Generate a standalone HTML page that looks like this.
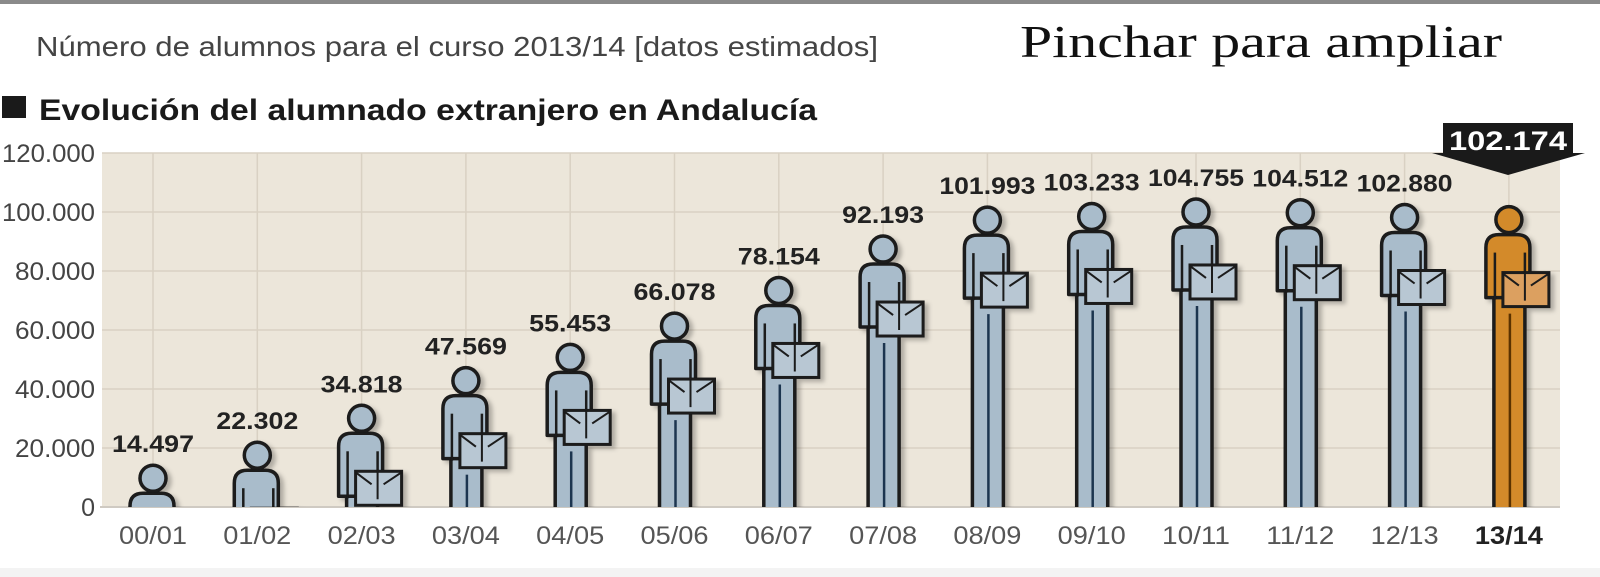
<!DOCTYPE html>
<html><head><meta charset="utf-8"><style>
html,body{margin:0;padding:0;background:#fff;}
svg{display:block;}
</style></head><body>
<svg width="1600" height="577" viewBox="0 0 1600 577" xmlns="http://www.w3.org/2000/svg">
<defs>
<clipPath id="pc"><rect x="100" y="0" width="1462" height="507"/></clipPath>
<filter id="sh" x="-30%" y="-10%" width="160%" height="130%"><feDropShadow dx="4" dy="3" stdDeviation="2" flood-color="#000" flood-opacity="0.25"/></filter>
</defs>
<rect x="0" y="0" width="1600" height="4" fill="#8a8a8a"/>
<rect x="0" y="568" width="1600" height="9" fill="#f3f3f3"/>
<text x="36" y="56" font-family="Liberation Sans, sans-serif" font-size="28" fill="#444" textLength="842" lengthAdjust="spacingAndGlyphs">Número de alumnos para el curso 2013/14 [datos estimados]</text>
<text x="1020" y="57" font-family="Liberation Serif, serif" font-size="46" fill="#111" textLength="482" lengthAdjust="spacingAndGlyphs">Pinchar para ampliar</text>
<rect x="2" y="96" width="24" height="22" fill="#1a1a1a"/>
<text x="39" y="120" font-family="Liberation Sans, sans-serif" font-size="30" font-weight="bold" fill="#1a1a1a" textLength="778" lengthAdjust="spacingAndGlyphs">Evolución del alumnado extranjero en Andalucía</text>
<rect x="102" y="153" width="1458" height="354" fill="#ece6da"/>
<g stroke="#d9d1c3" stroke-width="1.5">
<line x1="102" x2="1560" y1="153" y2="153"/><line x1="102" x2="1560" y1="212" y2="212"/><line x1="102" x2="1560" y1="271" y2="271"/><line x1="102" x2="1560" y1="330" y2="330"/><line x1="102" x2="1560" y1="389" y2="389"/><line x1="102" x2="1560" y1="448" y2="448"/>
</g>
<g id="vg" stroke="#d9d1c3" stroke-width="1.5"></g>
<line x1="100" x2="1560" y1="507" y2="507" stroke="#cfcac2" stroke-width="2"/>
<g font-family="Liberation Sans, sans-serif" font-size="25" fill="#444" text-anchor="end">
<text x="95" y="162" textLength="93" lengthAdjust="spacingAndGlyphs">120.000</text><text x="95" y="221" textLength="93" lengthAdjust="spacingAndGlyphs">100.000</text><text x="95" y="280" textLength="80" lengthAdjust="spacingAndGlyphs">80.000</text><text x="95" y="339" textLength="80" lengthAdjust="spacingAndGlyphs">60.000</text><text x="95" y="398" textLength="80" lengthAdjust="spacingAndGlyphs">40.000</text><text x="95" y="457" textLength="80" lengthAdjust="spacingAndGlyphs">20.000</text><text x="95" y="516">0</text>
</g>
<g id="figs" clip-path="url(#pc)"></g>
<g id="labs"></g>
<polygon points="1443,123 1573,123 1573,153 1585,153 1508,175 1432,153 1443,153" fill="#1a1a1a"/>
<text x="1508" y="150" text-anchor="middle" font-family="Liberation Sans, sans-serif" font-size="27" font-weight="bold" fill="#fff" textLength="118" lengthAdjust="spacingAndGlyphs">102.174</text>
</svg>
<script>
(function(){
var vals=[14497,22302,34818,47569,55453,66078,78154,92193,101993,103233,104755,104512,102880,102174];
var labs=["00/01","01/02","02/03","03/04","04/05","05/06","06/07","07/08","08/09","09/10","10/11","11/12","12/13","13/14"];
var ns="http://www.w3.org/2000/svg";
var figs=document.getElementById('figs'),L=document.getElementById('labs'),vg=document.getElementById('vg');
function el(t,a,p){var e=document.createElementNS(ns,t);for(var k in a)e.setAttribute(k,a[k]);p.appendChild(e);return e;}
for(var i=0;i<14;i++){
 var cx=153+104.3*i, top=507-vals[i]/120000*354, last=i==13;
 el('line',{x1:cx,x2:cx,y1:153,y2:507,stroke:'#d9d1c3','stroke-width':1.5},vg);
 var f=last?'#d38a2a':'#a9bccb', fb=last?'#dca060':'#b8c7d3', s='#1a1a1a';
 var g=el('g',{filter:'url(#sh)'},figs);
 el('rect',{x:cx-15,y:top+85,width:31,height:507-top-80,fill:f,stroke:s,'stroke-width':3.5},g);
 el('line',{x1:cx+1,x2:cx+1,y1:top+108,y2:510,stroke:last?'#5a3000':'#1d3550','stroke-width':2.5},g);
 el('path',{d:'M'+(cx-23)+','+(top+92)+' V'+(top+42)+' Q'+(cx-23)+','+(top+29)+' '+(cx-10)+','+(top+29)+' H'+(cx+8)+' Q'+(cx+21)+','+(top+29)+' '+(cx+21)+','+(top+42)+' V'+(top+92)+' Z',fill:f,stroke:s,'stroke-width':3.5,'stroke-linejoin':'round'},g);
 el('line',{x1:cx-14,x2:cx-14,y1:top+47,y2:top+94,stroke:s,'stroke-width':2.5},g);
 el('line',{x1:cx+16,x2:cx+16,y1:top+47,y2:top+94,stroke:s,'stroke-width':2.5},g);
 el('circle',{cx:cx,cy:top+14,r:13,fill:f,stroke:s,'stroke-width':3.5},g);
 el('rect',{x:cx-6,y:top+67,width:46,height:34,fill:fb,stroke:s,'stroke-width':3},g);
 el('path',{d:'M'+(cx-6)+','+(top+68)+' L'+(cx+10)+','+(top+80)+' M'+(cx+40)+','+(top+68)+' L'+(cx+22)+','+(top+80)+' M'+(cx+16)+','+(top+67)+' V'+(top+95),stroke:s,'stroke-width':2,fill:'none'},g);
 if(!last){var t=el('text',{x:cx,y:top-12,'text-anchor':'middle','font-family':'Liberation Sans, sans-serif','font-size':24,'font-weight':'bold',fill:'#222',textLength:(vals[i]>=100000?96:82),lengthAdjust:'spacingAndGlyphs'},L);t.textContent=vals[i].toString().replace(/(\d)(\d{3})$/,'$1.$2');}
 var x=el('text',{x:cx,y:544,'text-anchor':'middle','font-family':'Liberation Sans, sans-serif','font-size':25,fill:last?'#222':'#555','font-weight':last?'bold':'normal',textLength:68,lengthAdjust:'spacingAndGlyphs'},L);x.textContent=labs[i];
}
})();
</script>
</body></html>
